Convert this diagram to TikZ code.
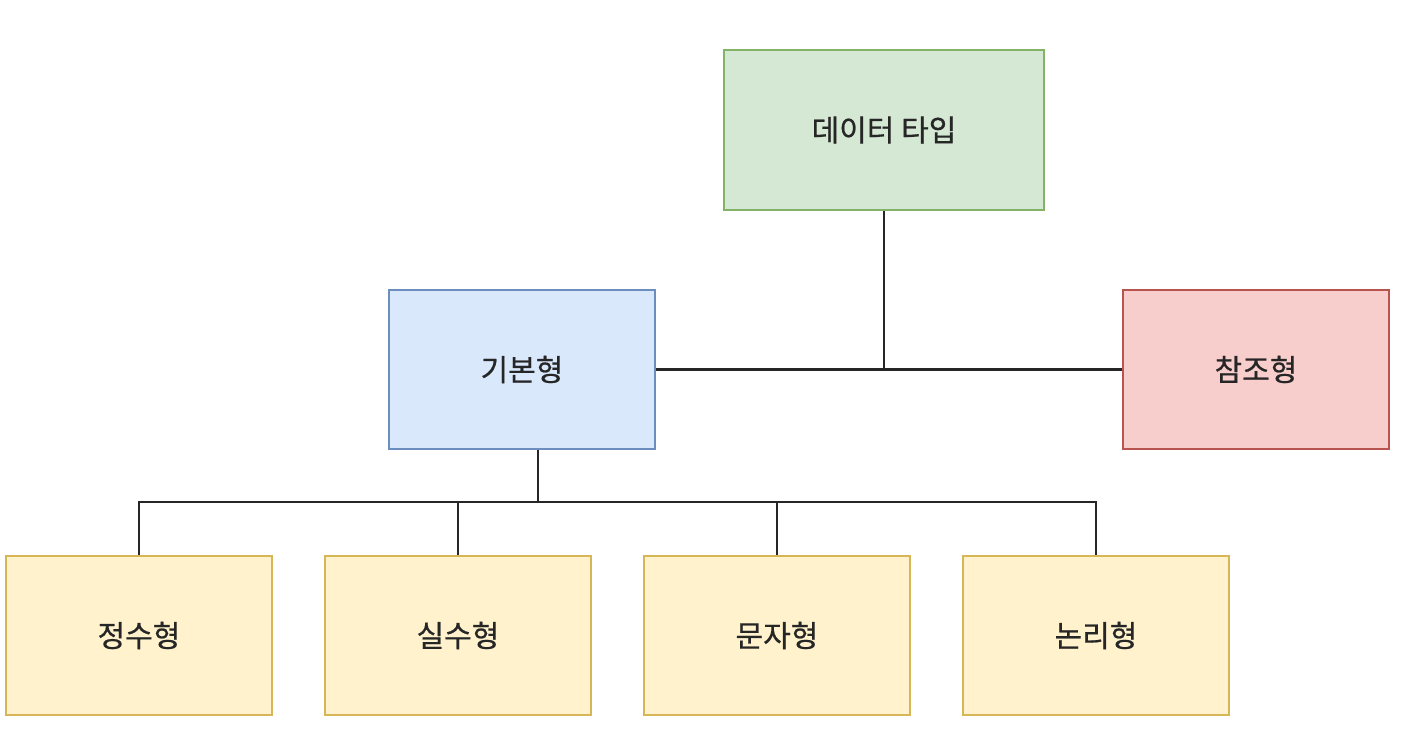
\documentclass[tikz,border=0pt]{standalone}
\usepackage{fontspec}
\newfontfamily\kr[FakeBold=0.6]{Noto Sans CJK KR}
\definecolor{gfill}{HTML}{D5E8D4}\definecolor{gdraw}{HTML}{82B366}
\definecolor{bfill}{HTML}{DAE8FC}\definecolor{bdraw}{HTML}{6C8EBF}
\definecolor{rfill}{HTML}{F8CECC}\definecolor{rdraw}{HTML}{B85450}
\definecolor{yfill}{HTML}{FFF2CC}\definecolor{ydraw}{HTML}{D6B656}
\begin{document}
\begin{tikzpicture}[x=0.75pt,y=-0.75pt,
  box/.style={rectangle, line width=1.4pt, minimum width=266*0.75pt, minimum height=159*0.75pt, inner sep=0pt, font=\kr\fontsize{22.5}{26}\selectfont, text=black!85},
  gbox/.style={box, fill=gfill, draw=gdraw},
  bbox/.style={box, fill=bfill, draw=bdraw},
  rbox/.style={box, fill=rfill, draw=rdraw},
  ybox/.style={box, fill=yfill, draw=ydraw},
  conn/.style={line width=1.7pt, black!85}]
\useasboundingbox (0,0) rectangle (1422,752);
\node[gbox, minimum width=320*0.75pt, minimum height=160*0.75pt] (dt) at (884,130) {데이터 타입};
\node[bbox] (basic) at (522,369.5) {기본형};
\node[rbox] (ref) at (1256,369.5) {참조형};
\node[ybox] (int) at (139,635.5) {정수형};
\node[ybox] (real) at (458,635.5) {실수형};
\node[ybox] (chr) at (777,635.5) {문자형};
\node[ybox] (bool) at (1096,635.5) {논리형};
\coordinate (j1) at (884,369.5);
\coordinate (j2) at (538,502);
\draw[conn] (basic.east) -- (ref.west);
\draw[conn] (dt.south) -- (j1);
\draw[conn] (basic.south -| j2) -- (j2);
\draw[conn] (int.north) |- (j2) -| (bool.north);
\draw[conn] (real.north) -- (real.north |- j2);
\draw[conn] (chr.north) -- (chr.north |- j2);
\end{tikzpicture}
\end{document}
